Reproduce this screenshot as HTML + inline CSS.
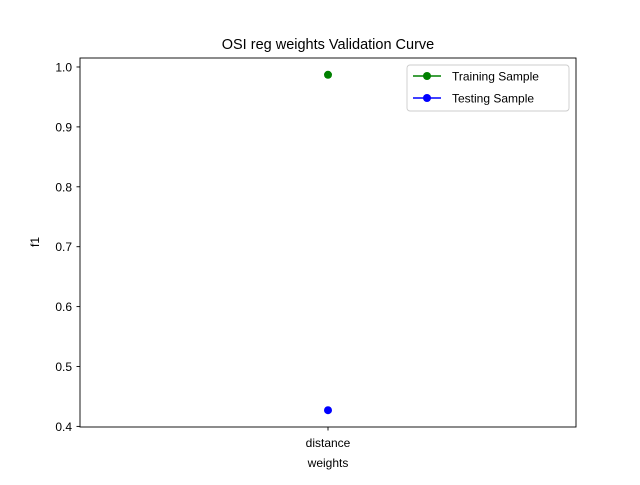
<!DOCTYPE html>
<html><head><meta charset="utf-8"><style>
body{margin:0;background:#fff;}
svg{font-family:"Liberation Sans","DejaVu Sans",sans-serif;}
</style></head><body>
<svg id="chart" width="640" height="480" viewBox="0 0 640 480">
<rect width="640" height="480" fill="#fff"/>
<text x="328" y="49" text-anchor="middle" font-size="14.5">OSI reg weights Validation Curve</text>
<g id="yticks"></g>
<g id="xticks"></g>
<g id="series"></g>
<rect x="80" y="58" width="496" height="369" fill="none" stroke="#000" stroke-width="0.9"/>
<text x="328" y="467" text-anchor="middle" font-size="12">weights</text>
<text transform="translate(39,242) rotate(-90)" text-anchor="middle" font-size="12">f1</text>
<g>
<rect x="407" y="65" width="162" height="46" rx="3" fill="#fff" stroke="#ccc" stroke-width="0.9"/>
<g>
<line x1="413" y1="76" x2="441" y2="76" stroke="green" stroke-width="1.5"/><circle cx="427" cy="76" r="4" fill="green"/>
<text x="452" y="80.5" font-size="12">Training Sample</text></g>
<g>
<line x1="413" y1="98" x2="441" y2="98" stroke="blue" stroke-width="1.5"/><circle cx="427" cy="98" r="4" fill="blue"/>
<text x="452" y="102.5" font-size="12">Testing Sample</text></g>
</g>
</svg>
<script>
const categories = ["distance"];
const trainScores = [0.987];
const testScores = [0.427];
const yTickLabels = [0.4, 0.5, 0.6, 0.7, 0.8, 0.9, 1.0];
const NS = "http://www.w3.org/2000/svg";
const all = trainScores.concat(testScores);
const dmin = Math.min(...all), dmax = Math.max(...all);
const pad = (dmax - dmin || 1) * 0.05;
const y0 = dmin - pad, y1 = dmax + pad;
function yScale(v){ return 427 - (v - y0) / (y1 - y0) * 369; }
function xScale(i){ return 80 + 496 * (i + 0.5) / categories.length; }
function mk(tag, attrs, parent){ const e=document.createElementNS(NS,tag); for(const k in attrs) e.setAttribute(k,attrs[k]); parent.appendChild(e); return e; }
const yt = document.getElementById('yticks');
yTickLabels.forEach(v=>{
  const y=yScale(v); if(y<57||y>428) return;
  const l=mk('line',{x1:76.5,x2:80,y1:y,y2:y,stroke:'#000','stroke-width':0.9},yt);
  
  
  const t=mk('text',{x:72,y:y+4.5,'text-anchor':'end','font-size':12},yt);
  t.textContent=v.toFixed(1);
  
  
});
const xt = document.getElementById('xticks');
categories.forEach((c,i)=>{
  const x=xScale(i);
  const l=mk('line',{x1:x,x2:x,y1:427,y2:430.5,stroke:'#000','stroke-width':0.9},xt);
  
  
  const t=mk('text',{x:x,y:447,'text-anchor':'middle','font-size':12},xt);
  t.textContent=c;
  
  
});
const sg = document.getElementById('series');
[[trainScores,'green','training'],[testScores,'blue','testing']].forEach(([vals,col,name])=>{
  vals.forEach((v,i)=>{
    const c=mk('circle',{cx:xScale(i),cy:yScale(v),r:4,fill:col},sg);
    
    
  });
});
</script>
</body></html>
